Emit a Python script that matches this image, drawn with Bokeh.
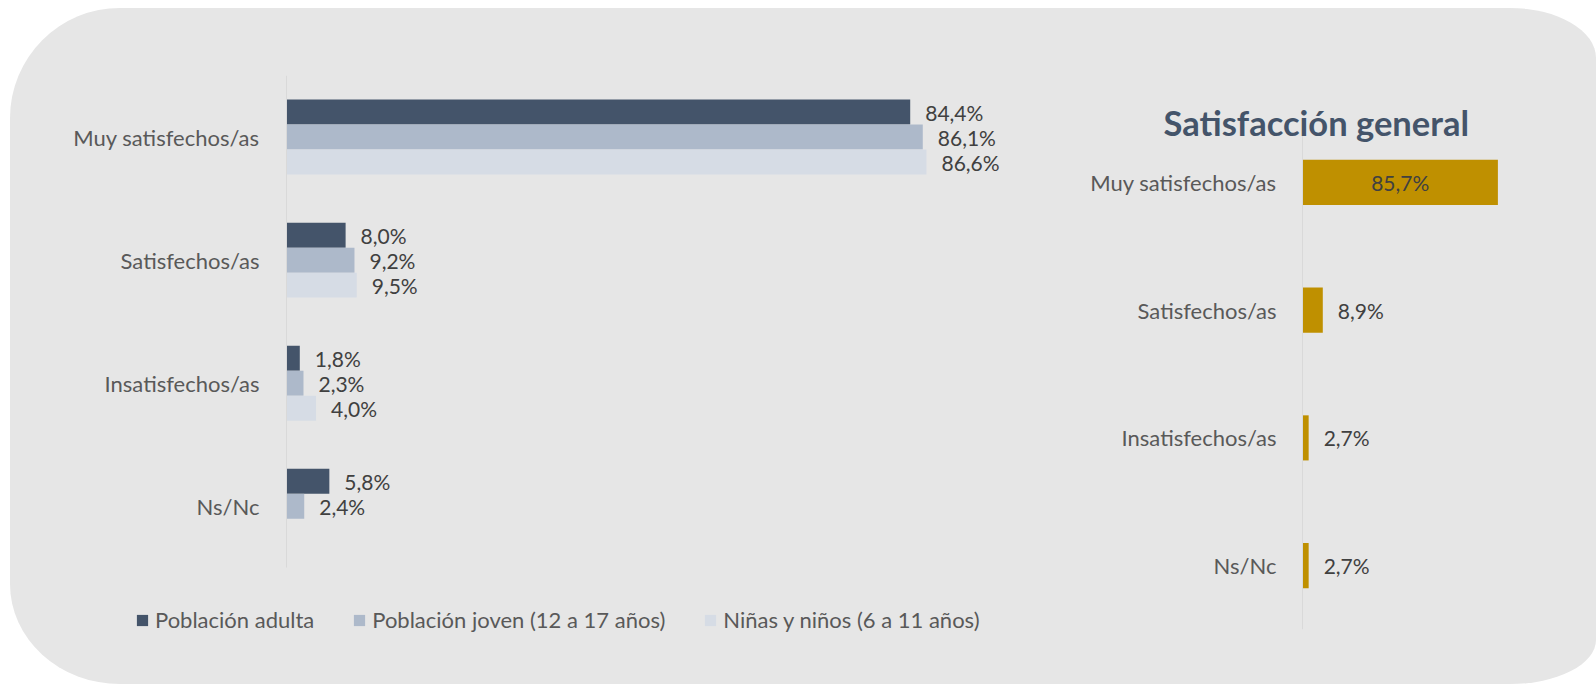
from bokeh.plotting import figure
from bokeh.models import (ColumnDataSource, Legend, LegendItem, Range1d, FixedTicker, Div, Label)
from bokeh.transform import dodge
from bokeh.embed import file_html
from bokeh.resources import INLINE
from bokeh.core.properties import value

# ---------------- data ----------------
categories = ["Muy satisfechos/as", "Satisfechos/as", "Insatisfechos/as", "Ns/Nc"]
series_names = ["Población adulta", "Población joven (12 a 17 años)", "Niñas y niños (6 a 11 años)"]
adultos = [84.4, 8.0, 1.8, 5.8]
jovenes = [86.1, 9.2, 2.3, 2.4]
ninos = [86.6, 9.5, 4.0, None]          # no value for Ns/Nc
general_title = "Satisfacción general"
general = [85.7, 8.9, 2.7, 2.7]

# ---------------- style ----------------
FONT = "Lato"
BG = "#e6e6e6"
COLORS = ["#44546a", "#adb9ca", "#d6dce5"]
GOLD = "#bf9000"
AXIS = "#d9d9d9"
LABEL_C = "#595959"
VALUE_C = "#404040"

ypos = [len(categories) - 1 - i for i in range(len(categories))]   # top category first


def fmt(v):
    return f"{v:.1f}".replace(".", ",") + "%"


def style_common(p, standoff):
    p.background_fill_alpha = 0
    p.border_fill_alpha = 0
    p.outline_line_color = None
    p.xgrid.grid_line_color = None
    p.ygrid.grid_line_color = None
    ax = p.yaxis[0]
    ax.fixed_location = 0
    ax.axis_line_color = AXIS
    ax.axis_line_width = 1
    ax.major_tick_line_color = None
    ax.minor_tick_line_color = None
    ax.major_tick_out = 0
    ax.major_tick_in = 0
    ax.major_label_text_font = FONT
    ax.major_label_text_font_size = "22px"
    ax.major_label_text_color = LABEL_C
    ax.major_label_standoff = standoff
    ax.ticker = FixedTicker(ticks=ypos)
    ax.major_label_overrides = {y: c for y, c in zip(ypos, categories)}
    ax.bounds = (-0.5, 3.5)


# ---------------- background panel ----------------
bg = Div(text="", width=1586, height=676, margin=0,
         styles={"position": "absolute", "left": "10px", "top": "8px",
                 "background-color": BG,
                 "border-radius": "110px 86px 86px 110px / 110px 50px 44px 100px"})

# ---------------- left chart ----------------
p1 = figure(width=1030, height=642, y_range=Range1d(-1.09, 3.5), x_range=Range1d(-30.58, 100),
            output_backend="svg", toolbar_location=None, x_axis_location=None,
            min_border_left=50, min_border_right=15, min_border_top=67, min_border_bottom=10,
            margin=0, styles={"position": "absolute", "left": "10px", "top": "8px"})
style_common(p1, 27)

h = 0.203
offsets = [h, 0.0, -h]
series_vals = [adultos, jovenes, ninos]
renderers = []
for vals, off, col in zip(series_vals, offsets, COLORS):
    src = ColumnDataSource(dict(y=ypos, val=[float("nan") if v is None else v for v in vals]))
    r = p1.hbar(y=dodge("y", off), left=0, right="val", height=h,
                source=src, fill_color=col, line_color=None)
    renderers.append(r)
    lab = ColumnDataSource(dict(y=[y for y, v in zip(ypos, vals) if v is not None],
                                val=[v for v in vals if v is not None],
                                txt=[fmt(v) for v in vals if v is not None]))
    p1.text(x="val", y=dodge("y", off), text="txt", source=lab,
            x_offset=15, text_align="left", text_baseline="middle",
            text_font=value(FONT), text_font_size="21px", text_color=VALUE_C)

legend = Legend(items=[LegendItem(label=n, renderers=[r]) for n, r in zip(series_names, renderers)],
                orientation="horizontal", location=(75, 7),
                glyph_width=14, glyph_height=14, label_standoff=6, spacing=38,
                label_text_font=FONT, label_text_font_size="22px", label_text_color=LABEL_C,
                padding=0, margin=0, border_line_color=None, background_fill_alpha=0)
p1.add_layout(legend)

# ---------------- right chart ----------------
p2 = figure(width=546, height=641, y_range=Range1d(-0.5, 3.641), x_range=Range1d(-110.53, 100),
            output_backend="svg", toolbar_location=None, x_axis_location=None,
            min_border_left=10, min_border_right=56, min_border_top=92, min_border_bottom=20,
            margin=0, styles={"position": "absolute", "left": "1040px", "top": "8px"})
style_common(p2, 26)

title = Label(x=113, y=507, x_units="screen", y_units="screen", text=general_title,
              text_align="left", text_baseline="alphabetic", text_font=FONT,
              text_font_size="34.5px", text_font_style="bold", text_color="#44546a")
p2.add_layout(title)

g_src = ColumnDataSource(dict(y=ypos, val=general))
p2.hbar(y="y", left=0, right="val", height=0.353, source=g_src, fill_color=GOLD, line_color=None)

inside = [v > 50 for v in general]
in_src = ColumnDataSource(dict(y=[y for y, f in zip(ypos, inside) if f],
                               pos=[v / 2 for v, f in zip(general, inside) if f],
                               txt=[fmt(v) for v, f in zip(general, inside) if f]))
out_src = ColumnDataSource(dict(y=[y for y, f in zip(ypos, inside) if not f],
                                pos=[v for v, f in zip(general, inside) if not f],
                                txt=[fmt(v) for v, f in zip(general, inside) if not f]))
p2.text(x="pos", y="y", text="txt", source=in_src, text_align="center", text_baseline="middle",
        text_font=value(FONT), text_font_size="21px", text_color=VALUE_C)
p2.text(x="pos", y="y", text="txt", source=out_src, x_offset=15, text_align="left",
        text_baseline="middle", text_font=value(FONT), text_font_size="21px", text_color=VALUE_C)

open("out.html", "w").write(file_html([bg, p1, p2], INLINE))
